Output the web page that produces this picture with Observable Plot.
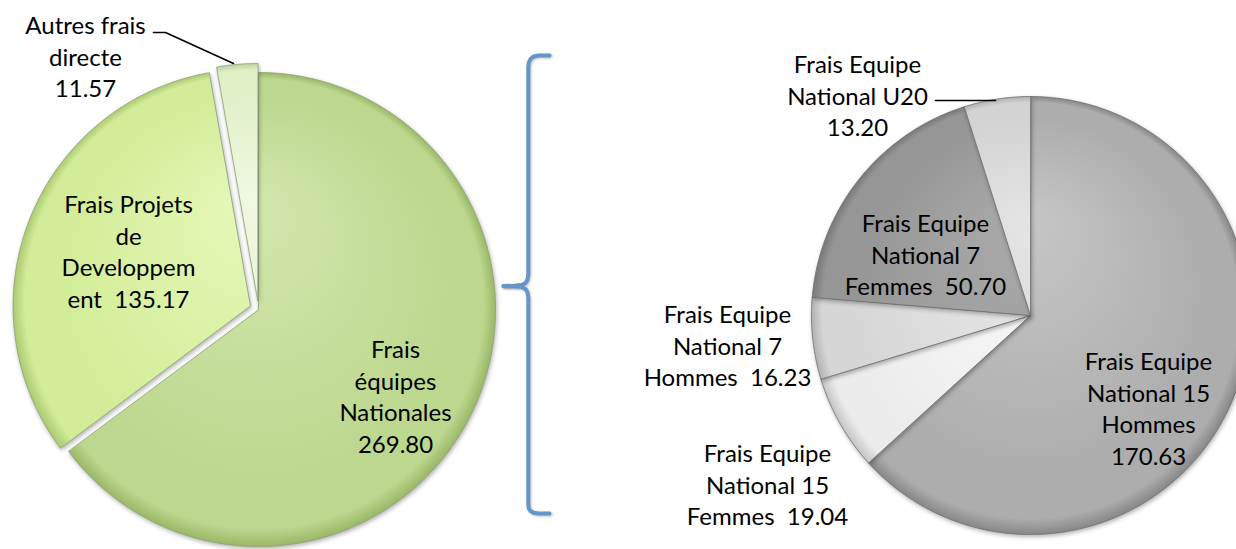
<!DOCTYPE html>
<html><head><meta charset="utf-8">
<script src="https://cdn.jsdelivr.net/npm/d3@7"></script>
<script src="https://cdn.jsdelivr.net/npm/@observablehq/plot@0.6"></script>
<style>
html,body{margin:0;padding:0;background:#fff;overflow:hidden;}
svg text{white-space:pre;}
</style></head><body><div id="chart"></div>
<script>
// ---- data ----
const leftCategories = ["Frais\néquipes\nNationales", "Frais Projets\nde\nDeveloppem\nent", "Autres frais\ndirecte"];
const leftValues = [269.80, 135.17, 11.57];
const rightCategories = ["Frais Equipe\nNational 15\nHommes", "Frais Equipe\nNational 15\nFemmes", "Frais Equipe\nNational 7\nHommes", "Frais Equipe\nNational 7\nFemmes", "Frais Equipe\nNational U20"];
const rightValues = [170.63, 19.04, 16.23, 50.70, 13.20];

// ---- layout ----
const W = 1236, H = 549;
const leftPie = {cx: 258, cy: 309, r: 237, explode: [0, 9, 9],
  colors: [["#d3e8ad", "#bcd78e", "#9ab867"], ["#e6f8b8", "#d2ec97", "#adc972"], ["#f0f8e0", "#e0efc6", "#bfd3a0"]],
  stroke: "#8d9f72", sep: ["\n", "  ", "\n"],
  labelPos: [[395, 395], [128, 250], [85, 55]]};
const rightPie = {cx: 1030, cy: 315, r: 219, explode: [0, 0, 0, 0, 0],
  colors: [["#c6c6c6", "#adadad", "#878787"], ["#fbfbfb", "#ececec", "#c4c4c4"], ["#eaeaea", "#d6d6d6", "#b2b2b2"], ["#ababab", "#969696", "#787878"], ["#e4e4e4", "#d3d3d3", "#b0b0b0"]],
  stroke: "#6f6f6f", sep: ["\n", "  ", "  ", "  ", "\n"],
  labelPos: [[1148, 407], [767, 483], [727, 344], [925, 253], [857, 94]]};
const leaderLeft = [[153, 32], [165, 32], [233, 63]];
const leaderRight = [[935, 100], [995, 100]];
const braceColor = "#6497c8";
const braceUpper = [[549, 55], [538, 55], [533, 56], [530, 58.5], [528.3, 62], [527.8, 66], [527.8, 274], [527, 279], [525, 282.5], [521, 284.5], [514, 285.3], [503, 285.5]];
const braceLower = [[503, 285.5], [514, 285.7], [521, 286.5], [525, 288.5], [527, 292], [527.8, 297], [527.8, 504], [528.3, 508], [530, 510.5], [533, 512.2], [538, 513], [549, 513]];

function slices(values, pie, tag) {
  const arcs = d3.pie().sort(null).value(d => d)(values);
  return arcs.map((a, i) => {
    const mid = (a.startAngle + a.endAngle) / 2;
    const e = pie.explode[i];
    const ox = pie.cx + e * Math.sin(mid), oy = pie.cy - e * Math.cos(mid);
    const n = Math.max(2, Math.ceil((a.endAngle - a.startAngle) / (Math.PI / 360)));
    const pts = [{x: ox, y: oy}];
    for (let k = 0; k <= n; k++) {
      const t = a.startAngle + (a.endAngle - a.startAngle) * k / n;
      pts.push({x: ox + pie.r * Math.sin(t), y: oy - pie.r * Math.cos(t)});
    }
    return {i, ox, oy, pts, id: `${tag}${i}`, colors: pie.colors[i], r: pie.r};
  });
}
const L = slices(leftValues, leftPie, "gl");
const R = slices(rightValues, rightPie, "gr");

const labels = [
  ...leftCategories.map((c, i) => ({text: c + leftPie.sep[i] + leftValues[i].toFixed(2), x: leftPie.labelPos[i][0], y: leftPie.labelPos[i][1]})),
  ...rightCategories.map((c, i) => ({text: c + rightPie.sep[i] + rightValues[i].toFixed(2), x: rightPie.labelPos[i][0], y: rightPie.labelPos[i][1]}))
];
const toPts = a => a.map(([x, y]) => ({x, y}));

const sliceMark = (s, stroke, sw) => Plot.line(s.pts, {x: "x", y: "y", curve: "linear-closed", fill: `url(#${s.id})`, stroke, strokeWidth: sw});

const chart = Plot.plot({
  width: W, height: H, margin: 0,
  style: {fontFamily: "Lato", background: "white"},
  x: {domain: [0, W], range: [0, W], axis: null},
  y: {domain: [0, H], range: [0, H], axis: null},
  marks: [
    ...L.map(s => sliceMark(s, leftPie.stroke, 0.8)),
    ...R.map(s => sliceMark(s, rightPie.stroke, 0.8)),
    Plot.line(toPts(braceUpper), {x: "x", y: "y", stroke: braceColor, strokeWidth: 4, strokeLinecap: "round", strokeLinejoin: "round"}),
    Plot.line(toPts(braceLower), {x: "x", y: "y", stroke: braceColor, strokeWidth: 4, strokeLinecap: "round", strokeLinejoin: "round"}),
    Plot.line(toPts(leaderLeft), {x: "x", y: "y", stroke: "black", strokeWidth: 1.6}),
    Plot.line(toPts(leaderRight), {x: "x", y: "y", stroke: "black", strokeWidth: 1.6}),
    Plot.text(labels, {x: "x", y: "y", text: "text", fontSize: 24, lineHeight: 1.31, fill: "black", fontFamily: "Lato"})
  ]
});

// gradients
const svg = d3.select(chart);
const defs = svg.insert("defs", ":first-child");
for (const s of [...L, ...R]) {
  const g = defs.append("radialGradient").attr("id", s.id).attr("gradientUnits", "userSpaceOnUse")
    .attr("cx", s.ox).attr("cy", s.oy).attr("r", s.r).attr("fx", s.ox).attr("fy", s.oy - s.r * 0.45);
  g.append("stop").attr("offset", "0").attr("stop-color", s.colors[0]);
  g.append("stop").attr("offset", "0.82").attr("stop-color", s.colors[1]);
  g.append("stop").attr("offset", "0.95").attr("stop-color", s.colors[1]);
  g.append("stop").attr("offset", "1").attr("stop-color", s.colors[2]);
}
svg.selectAll("g").filter(function () { return (this.getAttribute("fill") || "").startsWith("url("); })
  .style("filter", "drop-shadow(1px 2px 2px rgba(0,0,0,0.3))");
svg.selectAll("g").filter(function () { return this.getAttribute("stroke") === braceColor; })
  .style("filter", "drop-shadow(1px 1px 1px rgba(0,0,0,0.25))");
document.getElementById("chart").append(chart);
</script></body></html>
